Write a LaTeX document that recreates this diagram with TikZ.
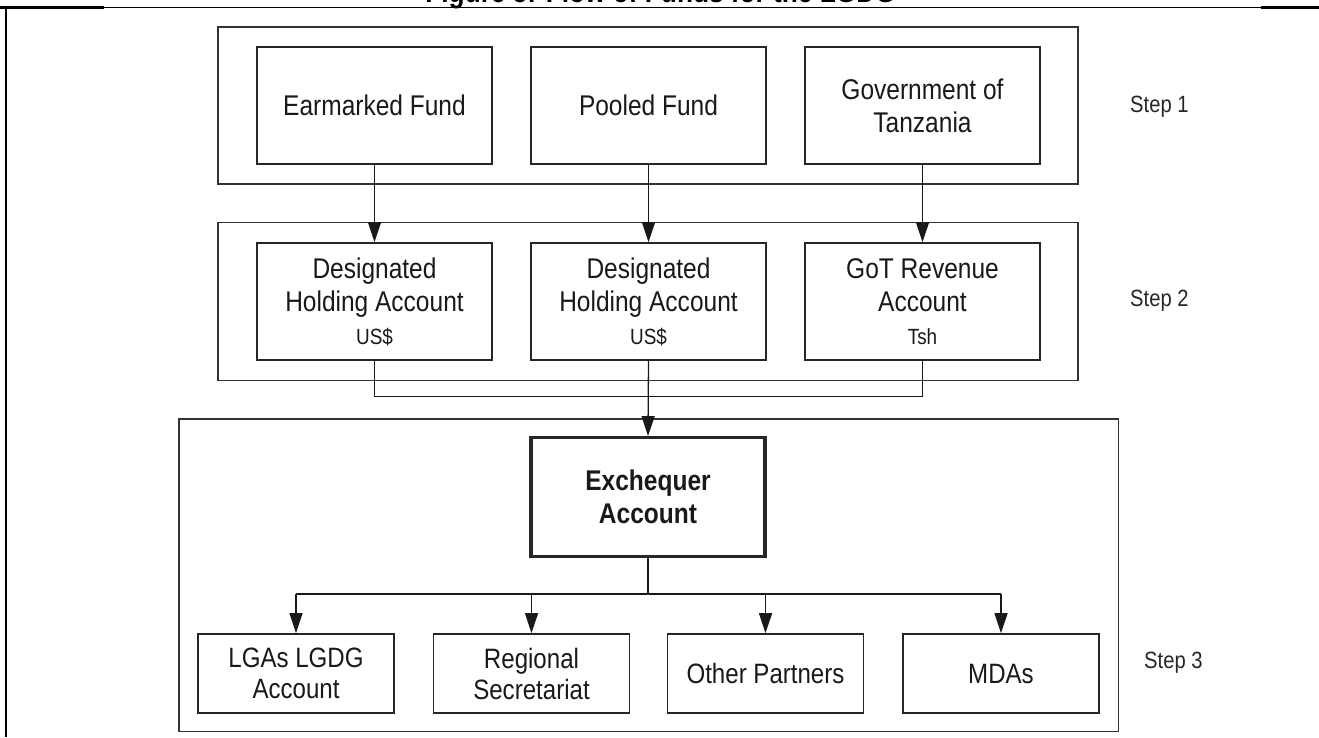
\documentclass[tikz,border=0pt]{standalone}
\usepackage{fontspec}
\setmainfont[FakeStretch=0.86]{Liberation Sans}
\usetikzlibrary{arrows.meta}
\begin{document}
\begin{tikzpicture}[x=1pt,y=-1pt,
  frame/.style={draw=black!80, line width=1.6pt, inner sep=0pt},
  box/.style={draw=black!85, line width=1.6pt, inner sep=0pt, align=center,
    text=black!90, font=\fontsize{28.5}{33}\selectfont},
  topbox/.style={box, minimum width=235pt, minimum height=117pt},
  lowbox/.style={box, minimum width=196pt, minimum height=79pt,
    font=\fontsize{28}{31}\selectfont},
  steplabel/.style={anchor=base west, inner sep=0pt, text=black!85,
    font=\fontsize{23.5}{26}\selectfont},
  flow/.style={draw=black!90, line width=1.3pt},
  arr/.style={flow, -{Triangle[length=20pt,width=13pt]}},
  rule/.style={draw=black, line width=1.2pt},
  thickrule/.style={draw=black, line width=2.8pt},
]
\useasboundingbox (0,0) rectangle (1319,737);
\clip (0,0) rectangle (1319,737);

% page rules and the title above them
\node[anchor=base, inner sep=0pt, font=\bfseries\fontsize{30.5}{34}\selectfont] (title)
  at (660.5,2.5) {Figure 5: Flow of Funds for the LGDG};
\draw[rule] (0,7.5) -- (1319,7.5);
\draw[thickrule] (0,7.5) -- (104,7.5);
\draw[thickrule] (1261,7.5) -- (1319,7.5);
\draw[thickrule] (6,6.1) -- (6,737);

% group frames
\node[frame, minimum width=860pt, minimum height=157pt] (g1) at (648,105.5) {};
\node[frame, minimum width=860pt, minimum height=158pt] (g2) at (648,301.4) {};
\node[frame, minimum width=939.5pt, minimum height=312.5pt] (g3) at (648.75,575.25) {};

% step 1: sources of funds
\node[topbox] (ef) at (374.5,105.75) {Earmarked Fund};
\node[topbox] (pf) at (648.5,105.75) {Pooled Fund};
\node[topbox] (gt) at (922.5,105.75) {Government of\\Tanzania};

% step 2: holding accounts
\node[topbox] (da) at (374.5,301.5) {Designated\\Holding Account\\{\fontsize{22}{24}\selectfont US\$}};
\node[topbox] (db) at (648.5,301.5) {Designated\\Holding Account\\{\fontsize{22}{24}\selectfont US\$}};
\node[topbox] (gr) at (922.5,301.5) {GoT Revenue\\Account\\{\fontsize{22}{24}\selectfont Tsh}};

% step 3: exchequer and recipients
\node[topbox, minimum width=234pt, minimum height=119pt, line width=3.2pt,
  font=\bfseries\fontsize{28.5}{33}\selectfont] (ex) at (648,497.2) {Exchequer\\Account};
\node[lowbox] (lg) at (296,673.5) {LGAs LGDG\\Account};
\node[lowbox] (rs) at (531.5,673.5) {Regional\\Secretariat};
\node[lowbox] (op) at (765.5,673.5) {Other Partners};
\node[lowbox] (md) at (1001,673.5) {MDAs};

% step labels
\node[steplabel] (s1) at (1130,112) {Step 1};
\node[steplabel] (s2) at (1130,306) {Step 2};
\node[steplabel] (s3) at (1144,668) {Step 3};

% connectors
\coordinate (join) at (648.5,396.7);
\coordinate (fork) at (648,594);
\draw[arr] (ef.south) -- (da.north);
\draw[arr] (pf.south) -- (db.north);
\draw[arr] (gt.south) -- (gr.north);
\draw[flow] (da.south) -- (da.south |- join) -- (gr.south |- join) -- (gr.south);
\draw[arr] (db.south) -- (ex.north);
\draw[flow] (ex.south) -- (fork);
\draw[flow] (lg.north |- fork) -- (md.north |- fork);
\foreach \n in {lg,rs,op,md}
  \draw[arr] (\n.north |- fork) -- (\n.north);
\end{tikzpicture}
\end{document}
